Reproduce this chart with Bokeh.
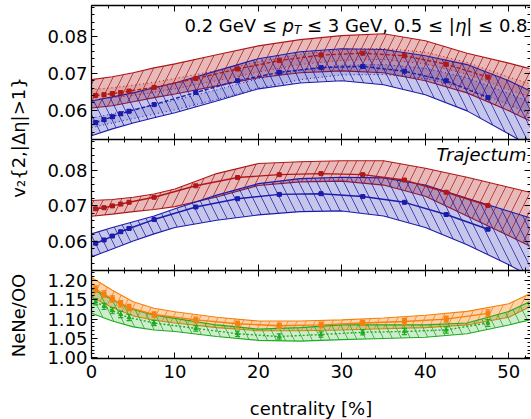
import numpy as np
from bokeh.plotting import figure
from bokeh.layouts import row, column
from bokeh.models import LinearAxis, FixedTicker, PrintfTickFormatter, Label, Range1d
from bokeh.embed import file_html
from bokeh.resources import INLINE

# ---------------- data ----------------
cb = [0, 2.5, 5, 7.5, 10, 15, 20, 25, 30, 35, 40, 45, 50, 52.5]          # band grid (centrality %)
pc = [0.5, 1.5, 2.5, 3.5, 4.5, 7.5, 12.5, 17.5, 22.5, 27.5, 32.5, 37.5, 42.5, 47.5]  # point centralities

# top panel
top_red_hi = [0.0683, 0.0691, 0.0702, 0.0715, 0.0726, 0.0751, 0.0775, 0.0792, 0.0803, 0.0808, 0.0789, 0.0755, 0.0728, 0.0713]
top_red_lo = [0.0606, 0.0612, 0.0623, 0.0634, 0.0644, 0.0666, 0.0688, 0.0702, 0.0707, 0.0702, 0.0680, 0.0647, 0.0598, 0.0571]
top_red_in_hi = [0.0656, 0.0661, 0.0668, 0.0676, 0.0686, 0.0708, 0.0732, 0.0752, 0.0765, 0.0768, 0.0758, 0.0730, 0.0690, 0.0672]
top_red_in_lo = [0.0630, 0.0634, 0.0640, 0.0648, 0.0658, 0.0680, 0.0704, 0.0724, 0.0736, 0.0738, 0.0726, 0.0698, 0.0656, 0.0636]
top_red_pts = [0.0640, 0.0642, 0.0645, 0.0648, 0.0652, 0.0662, 0.0686, 0.0712, 0.0735, 0.0750, 0.0755, 0.0748, 0.0725, 0.0690]
top_blue_hi = [0.0625, 0.0636, 0.0647, 0.0661, 0.0674, 0.0707, 0.0740, 0.0759, 0.0767, 0.0765, 0.0748, 0.0724, 0.0680, 0.0653]
top_blue_lo = [0.0530, 0.0549, 0.0565, 0.0579, 0.0593, 0.0625, 0.0658, 0.0674, 0.0680, 0.0669, 0.0642, 0.0598, 0.0535, 0.0503]
top_blue_in_hi = [0.0578, 0.0590, 0.0602, 0.0614, 0.0627, 0.0655, 0.0686, 0.0709, 0.0722, 0.0724, 0.0714, 0.0688, 0.0645, 0.0622]
top_blue_in_lo = [0.0552, 0.0565, 0.0577, 0.0589, 0.0601, 0.0629, 0.0660, 0.0683, 0.0696, 0.0697, 0.0686, 0.0660, 0.0615, 0.0590]
top_blue_pts = [0.0566, 0.0574, 0.0582, 0.0590, 0.0597, 0.0615, 0.0648, 0.0680, 0.0703, 0.0716, 0.0719, 0.0706, 0.0680, 0.0634]
top_err = [0.0004, 0.0004, 0.0004, 0.0004, 0.0004, 0.0003, 0.0003, 0.0003, 0.0003, 0.0003, 0.0003, 0.0003, 0.0004, 0.0004]

# middle panel (Trajectum)
mid_red_hi = [0.0715, 0.0718, 0.0724, 0.0733, 0.0747, 0.0790, 0.0818, 0.0823, 0.0826, 0.0826, 0.0805, 0.0780, 0.0752, 0.0738]
mid_red_lo = [0.0671, 0.0677, 0.0684, 0.0690, 0.0698, 0.0725, 0.0757, 0.0767, 0.0769, 0.0758, 0.0727, 0.0672, 0.0617, 0.0588]
mid_red_pts = [0.0692, 0.0695, 0.0700, 0.0705, 0.0710, 0.0724, 0.0756, 0.0779, 0.0787, 0.0790, 0.0787, 0.0772, 0.0738, 0.0701]
mid_blue_hi = [0.0622, 0.0640, 0.0656, 0.0672, 0.0692, 0.0730, 0.0762, 0.0776, 0.0780, 0.0778, 0.0758, 0.0721, 0.0685, 0.0667]
mid_blue_lo = [0.0558, 0.0580, 0.0602, 0.0622, 0.0640, 0.0660, 0.0675, 0.0684, 0.0686, 0.0672, 0.0640, 0.0592, 0.0536, 0.0505]
mid_blue_pts = [0.0596, 0.0605, 0.0616, 0.0628, 0.0637, 0.0662, 0.0697, 0.0720, 0.0732, 0.0734, 0.0726, 0.0710, 0.0676, 0.0635]
mid_err = [0.0003, 0.0003, 0.0003, 0.0003, 0.0003, 0.0002, 0.0002, 0.0002, 0.0002, 0.0002, 0.0002, 0.0002, 0.0002, 0.0002]

# bottom panel (NeNe/OO)
bot_or_hi = [1.208, 1.175, 1.145, 1.128, 1.119, 1.105, 1.095, 1.095, 1.098, 1.103, 1.110, 1.120, 1.140, 1.166]
bot_or_lo = [1.157, 1.130, 1.108, 1.097, 1.090, 1.078, 1.070, 1.070, 1.072, 1.075, 1.078, 1.085, 1.105, 1.132]
bot_or_pts = [1.178, 1.165, 1.152, 1.140, 1.130, 1.112, 1.098, 1.088, 1.083, 1.085, 1.090, 1.094, 1.100, 1.115]
bot_gr_hi = [1.179, 1.150, 1.125, 1.110, 1.102, 1.085, 1.074, 1.078, 1.085, 1.085, 1.085, 1.090, 1.120, 1.145]
bot_gr_lo = [1.115, 1.095, 1.080, 1.072, 1.068, 1.055, 1.045, 1.043, 1.047, 1.050, 1.053, 1.062, 1.085, 1.098]
bot_gr_pts = [1.145, 1.133, 1.122, 1.112, 1.104, 1.090, 1.076, 1.062, 1.055, 1.060, 1.066, 1.068, 1.072, 1.090]
bot_err = [0.008, 0.008, 0.008, 0.008, 0.008, 0.007, 0.007, 0.007, 0.007, 0.007, 0.007, 0.008, 0.008, 0.009]

x_ticks = [0, 10, 20, 30, 40, 50]
v2_ticks = [0.06, 0.07, 0.08]
ratio_ticks = [1.00, 1.05, 1.10, 1.15, 1.20]

RED, BLUE, ORANGE, GREEN = "#b01818", "#1c1cab", "#f5800f", "#1faa1f"
FONT = "DejaVu Sans"

xr = Range1d(0, 52.6)


def make_fig(yr, fh, top_border):
    p = figure(frame_width=439, frame_height=fh, x_range=xr, y_range=yr,
               min_border_left=53, min_border_right=0, min_border_top=top_border,
               min_border_bottom=0, toolbar_location=None, output_backend="svg",
               x_axis_location=None, y_axis_location=None, title=None,
               outline_line_color=None, background_fill_color="white")
    p.grid.visible = False
    return p


def style(ax, labels):
    ax.major_tick_in = 6
    ax.major_tick_out = 0
    ax.minor_tick_in = 3
    ax.minor_tick_out = 0
    ax.axis_line_width = 1.3
    ax.axis_line_color = "black"
    ax.major_tick_line_color = "black"
    ax.minor_tick_line_color = "black"
    if labels:
        ax.major_label_text_font = FONT
        ax.major_label_text_font_size = "18px"
        ax.major_label_text_color = "black"
        ax.major_label_standoff = 4
    else:
        ax.major_label_text_font_size = "0px"
        ax.major_label_text_color = None
        ax.major_label_text_alpha = 0
        ax.major_label_standoff = 0


def add_axes(p, yt, ystep, bottom_labels):
    ymin = list(np.round(np.arange(yt[0] - 5 * ystep, yt[-1] + 6 * ystep, ystep), 6))
    left = LinearAxis(ticker=FixedTicker(ticks=yt, minor_ticks=ymin),
                      formatter=PrintfTickFormatter(format="%.2f"))
    style(left, True)
    right = LinearAxis(ticker=FixedTicker(ticks=yt, minor_ticks=ymin))
    style(right, False)
    right.axis_line_color = None
    top = LinearAxis(ticker=FixedTicker(ticks=x_ticks, minor_ticks=list(range(0, 54, 2))))
    style(top, False)
    bot = LinearAxis(ticker=FixedTicker(ticks=x_ticks, minor_ticks=list(range(0, 54, 2))))
    style(bot, bottom_labels)
    if bottom_labels:
        bot.major_label_standoff = 6
        bot.axis_label = "centrality [%]"
        bot.axis_label_text_font = FONT
        bot.axis_label_text_font_size = "18px"
        bot.axis_label_text_font_style = "normal"
        bot.axis_label_text_color = "black"
        bot.axis_label_standoff = 17
    p.add_layout(left, "left")
    p.add_layout(right, "right")
    p.add_layout(top, "above")
    p.add_layout(bot, "below")


def band(p, lo, hi, color, hatch, alpha=0.25, hatch_alpha=0.85, edge_dash="solid", edge_w=1.1):
    p.varea(x=cb, y1=lo, y2=hi, fill_color=color, fill_alpha=alpha,
            hatch_pattern=hatch, hatch_color=color, hatch_alpha=hatch_alpha,
            hatch_scale=18, hatch_weight=0.9)
    p.line(cb, hi, line_color=color, line_width=edge_w, line_dash=edge_dash)
    p.line(cb, lo, line_color=color, line_width=edge_w, line_dash=edge_dash)


def inner(p, lo, hi, color):
    p.varea(x=cb, y1=lo, y2=hi, fill_color=color, fill_alpha=0.12)
    p.line(cb, hi, line_color=color, line_width=1, line_dash="1 3")
    p.line(cb, lo, line_color=color, line_width=1, line_dash="1 3")


def points(p, vals, err, color, line_dash="solid", marker="square"):
    lo = [v - e for v, e in zip(vals, err)]
    hi = [v + e for v, e in zip(vals, err)]
    p.line(pc, vals, line_color=color, line_width=1.4, line_dash=line_dash)
    p.segment(x0=pc, y0=lo, x1=pc, y1=hi, line_color=color, line_width=1.2)
    p.scatter(pc, lo, marker="dash", size=5, line_color=color, line_width=1.2)
    p.scatter(pc, hi, marker="dash", size=5, line_color=color, line_width=1.2)
    p.scatter(pc, vals, marker=marker, size=4, fill_color=color, line_color=color)


# ---------------- top panel ----------------
p1 = make_fig(Range1d(0.052, 0.0885), 134, 5)
band(p1, top_red_lo, top_red_hi, RED, "/", alpha=0.3)
band(p1, top_blue_lo, top_blue_hi, BLUE, "\\")
inner(p1, top_red_in_lo, top_red_in_hi, RED)
inner(p1, top_blue_in_lo, top_blue_in_hi, BLUE)
points(p1, top_red_pts, top_err, RED, line_dash="4 2")
points(p1, top_blue_pts, top_err, BLUE, line_dash="4 2")
add_axes(p1, v2_ticks, 0.002, False)

xe = xr.end
ty = 0.0831
tkw = dict(x=xe, y=ty, text_font=FONT, text_font_size="18px", text_align="left",
           text_baseline="alphabetic", text_color="black")
p1.add_layout(Label(text="0.2 GeV ≤", x_offset=-346, **tkw))
p1.add_layout(Label(text="p", x_offset=-248, text_font_style="italic", **tkw))
p1.add_layout(Label(text="T", x=xe, y=ty, x_offset=-236.6, y_offset=-5, text_font=FONT,
                    text_font_size="12px", text_font_style="italic", text_align="left",
                    text_baseline="alphabetic", text_color="black"))
p1.add_layout(Label(text="≤ 3 GeV, 0.5 ≤ |", x_offset=-223.6, **tkw))
p1.add_layout(Label(text="η", x_offset=-75.6, text_font_style="italic", **tkw))
p1.add_layout(Label(text="| ≤ 0.8", x_offset=-64.2, **tkw))

# ---------------- middle panel ----------------
p2 = make_fig(Range1d(0.052, 0.0885), 131, 0)
band(p2, mid_red_lo, mid_red_hi, RED, "/", alpha=0.3)
band(p2, mid_blue_lo, mid_blue_hi, BLUE, "\\")
points(p2, mid_red_pts, mid_err, RED)
points(p2, mid_blue_pts, mid_err, BLUE)
add_axes(p2, v2_ticks, 0.002, False)
p2.add_layout(Label(text="Trajectum", x=xe, y=0.0843, x_offset=-4, text_font=FONT,
                    text_font_size="18px", text_font_style="italic", text_align="right",
                    text_baseline="alphabetic", text_color="black"))

# ---------------- bottom panel ----------------
p3 = make_fig(Range1d(0.998, 1.226), 88, 0)
band(p3, bot_or_lo, bot_or_hi, ORANGE, "/", alpha=0.35)
band(p3, bot_gr_lo, bot_gr_hi, GREEN, "\\", alpha=0.22)
points(p3, bot_or_pts, bot_err, ORANGE)
points(p3, bot_gr_pts, bot_err, GREEN, line_dash="2 2", marker="triangle")
add_axes(p3, ratio_ticks, 0.01, True)

# ---------------- y labels column ----------------
lf = figure(width=38, height=419, x_range=Range1d(0, 38), y_range=Range1d(419, 0),
            toolbar_location=None, output_backend="svg", min_border=0,
            x_axis_location=None, y_axis_location=None, title=None, outline_line_color=None)
lf.grid.visible = False
lf.add_layout(Label(x=18, y=137, text="v₂{2,|Δη|>1}", angle=np.pi / 2, text_align="center",
                    text_baseline="middle", text_font=FONT, text_font_size="18px", text_color="black"))
lf.add_layout(Label(x=18, y=315, text="NeNe/OO", angle=np.pi / 2, text_align="center",
                    text_baseline="middle", text_font=FONT, text_font_size="18px", text_color="black"))

layout = row(lf, column(p1, p2, p3))
open("out.html", "w").write(file_html(layout, INLINE))
